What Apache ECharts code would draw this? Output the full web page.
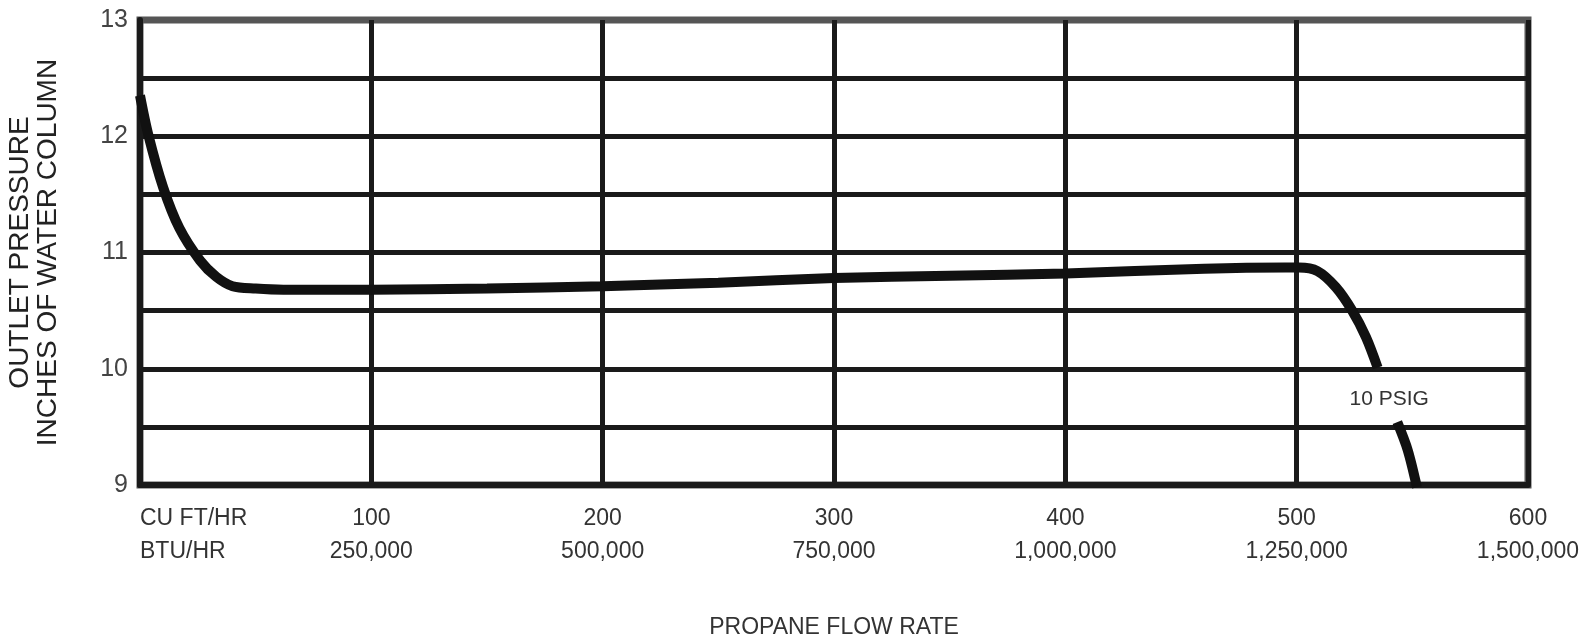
<!DOCTYPE html>
<html>
<head>
<meta charset="utf-8">
<script src="https://cdn.jsdelivr.net/npm/echarts@6/dist/echarts.min.js"></script>
<style>
html,body{margin:0;padding:0;background:#fff;}
#regCurve{width:1582px;height:639px;}
</style>
</head>
<body>
<div id="regCurve"></div>
<script>
// propane flow (cu ft/hr) vs outlet pressure (inches w.c.), 10 PSIG inlet
var flowCuFt = [0, 3.5, 10, 17, 26, 33, 40, 50, 62, 100, 150, 200, 250, 300, 350, 400, 460, 495, 501, 509, 517, 524, 530, 535, 540, 543.5, 548, 552];
var pressure = [12.35, 12.02, 11.56, 11.21, 10.93, 10.79, 10.71, 10.69, 10.68, 10.68, 10.69, 10.71, 10.74, 10.78, 10.80, 10.82, 10.86, 10.87, 10.87, 10.84, 10.70, 10.50, 10.27, 10.01, '-', 9.54, 9.30, 8.98];
var cuFtTicks = ['100', '200', '300', '400', '500', '600'];
var btuTicks = ['250,000', '500,000', '750,000', '1,000,000', '1,250,000', '1,500,000'];
var curveLabel = '10 PSIG';

var FONT = "'Liberation Sans Narrow', 'Liberation Sans', Arial, sans-serif";
var chart = echarts.init(document.getElementById('regCurve'));

var pts = [];
for (var i = 0; i < flowCuFt.length; i++) {
	pts.push([flowCuFt[i], pressure[i]]);
}

var option = {
	backgroundColor: '#fff',
	animation: false,
	grid: {
		left: 140, right: 54, top: 20, bottom: 154,
		outerBoundsMode: 'none',
		containLabel: false,
		show: true,
		borderColor: '#555',
		borderWidth: 7,
		backgroundColor: 'transparent'
	},
	xAxis: [{
		type: 'value',
		min: 0, max: 600, interval: 100,
		name: 'PROPANE FLOW RATE',
		nameLocation: 'middle',
		nameGap: 131,
		nameTextStyle: { fontFamily: "'Liberation Sans', Arial, sans-serif", fontSize: 23, color: '#333' },
		axisLine: { show: true, lineStyle: { color: '#1a1a1a', width: 6 } },
		axisTick: { show: false },
		splitLine: { show: true, lineStyle: { color: '#1a1a1a', width: 5 } },
		axisLabel: {
			margin: 17,
			fontFamily: FONT, fontSize: 23, color: '#333', lineHeight: 33,
			formatter: function (v) {
				var k = Math.round(v / 100) - 1;
				if (k < 0) return '';
				return cuFtTicks[k] + '\n' + btuTicks[k];
			}
		}
	}, {
		type: 'value',
		position: 'bottom',
		min: 0, max: 600, interval: 100,
		axisLine: { show: false },
		axisTick: { show: false },
		splitLine: { show: false },
		axisLabel: {
			margin: 17, align: 'left',
			fontFamily: FONT, fontSize: 23, color: '#333', lineHeight: 33,
			formatter: function (v) { return v === 0 ? 'CU FT/HR\nBTU/HR' : ''; }
		}
	}],
	yAxis: {
		type: 'value',
		min: 9, max: 13, interval: 0.5,
		name: 'OUTLET PRESSURE\nINCHES OF WATER COLUMN',
		nameLocation: 'middle',
		nameRotate: 90,
		nameGap: 78,
		nameTextStyle: { fontFamily: "'Liberation Sans', Arial, sans-serif", fontSize: 28, lineHeight: 28, color: '#222' },
		axisLine: { show: true, lineStyle: { color: '#1a1a1a', width: 6 } },
		axisTick: { show: false },
		splitLine: { show: true, showMaxLine: false, lineStyle: { color: '#1a1a1a', width: 5 } },
		axisLabel: {
			margin: 12,
			fontFamily: FONT, fontSize: 25, color: '#444',
			formatter: function (v) { return v % 1 === 0 ? String(v) : ''; }
		}
	},
	series: [{
		type: 'line',
		data: pts,
		smooth: 0.3,
		symbol: 'none',
		connectNulls: false,
		lineStyle: { color: '#111', width: 10 },
		markPoint: {
			symbol: 'rect', symbolSize: 1,
			itemStyle: { color: 'transparent' },
			label: {
				show: true, formatter: curveLabel, position: 'inside',
				fontFamily: "'Liberation Sans', Arial, sans-serif", fontSize: 21, color: '#333'
			},
			data: [{ coord: [540, 9.74] }]
		}
	}]
};
chart.setOption(option);
</script>
</body>
</html>
